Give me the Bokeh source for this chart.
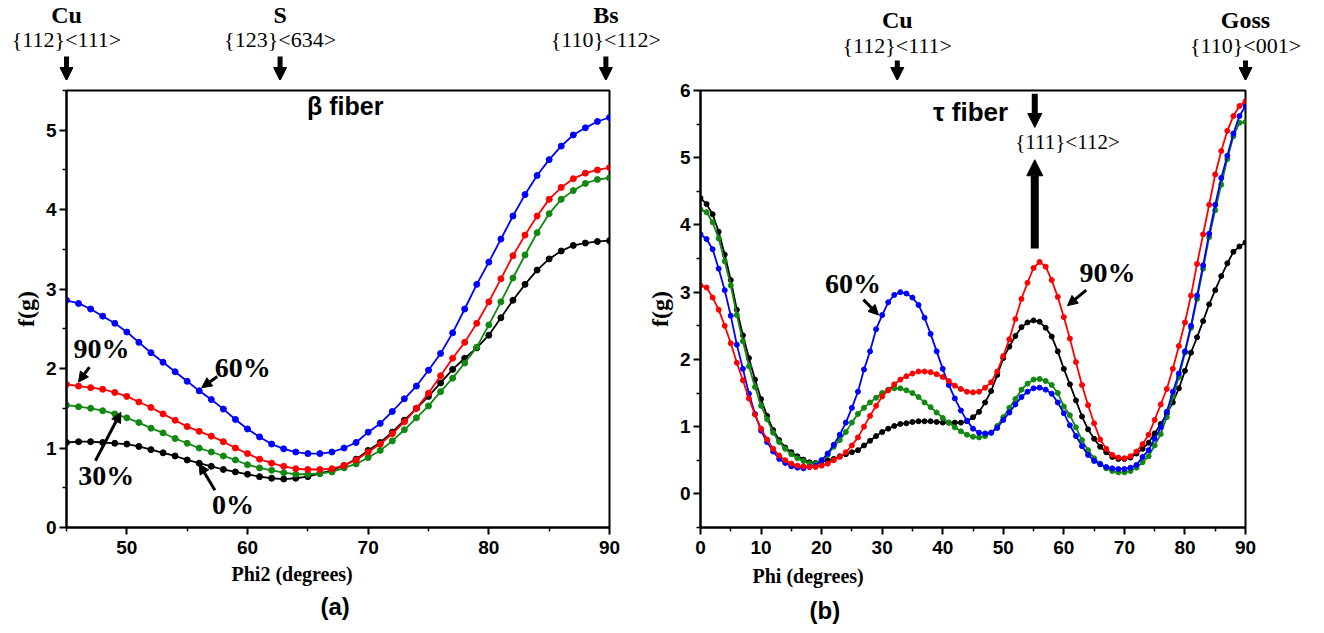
from bokeh.plotting import figure
from bokeh.layouts import row, column
from bokeh.models import FixedTicker, Label, Arrow, NormalHead, Range1d, Title
from bokeh.embed import file_html
from bokeh.resources import INLINE

# ---------------- data: (a) beta fiber ----------------
phi2 = list(range(45, 91))
beta_0 = [1.07, 1.08, 1.08, 1.07, 1.06, 1.05, 1.02, 0.98, 0.94, 0.90,
          0.85, 0.81, 0.77, 0.73, 0.70, 0.67, 0.64, 0.62, 0.61, 0.62,
          0.64, 0.68, 0.72, 0.78, 0.86, 0.97, 1.07, 1.20, 1.35, 1.50,
          1.65, 1.82, 1.99, 2.13, 2.26, 2.42, 2.64, 2.86, 3.06, 3.24,
          3.38, 3.48, 3.55, 3.58, 3.60, 3.61]
beta_30 = [1.54, 1.52, 1.50, 1.47, 1.43, 1.38, 1.32, 1.25, 1.19, 1.12,
           1.06, 1.00, 0.95, 0.90, 0.85, 0.79, 0.75, 0.72, 0.69, 0.67,
           0.67, 0.68, 0.70, 0.75, 0.80, 0.88, 0.97, 1.09, 1.23, 1.38,
           1.53, 1.71, 1.88, 2.07, 2.27, 2.55, 2.84, 3.14, 3.43, 3.71,
           3.95, 4.13, 4.24, 4.33, 4.38, 4.40]
beta_60 = [2.86, 2.82, 2.75, 2.66, 2.57, 2.46, 2.33, 2.20, 2.08, 1.96,
           1.84, 1.72, 1.61, 1.49, 1.36, 1.24, 1.14, 1.05, 0.99, 0.95,
           0.93, 0.93, 0.95, 1.00, 1.07, 1.20, 1.31, 1.46, 1.62, 1.78,
           1.98, 2.19, 2.45, 2.75, 3.06, 3.34, 3.63, 3.92, 4.19, 4.43,
           4.63, 4.80, 4.94, 5.03, 5.11, 5.16]
beta_90 = [1.80, 1.78, 1.76, 1.74, 1.70, 1.65, 1.58, 1.51, 1.43, 1.35,
           1.27, 1.21, 1.15, 1.08, 1.00, 0.93, 0.86, 0.81, 0.77, 0.74,
           0.73, 0.73, 0.74, 0.78, 0.85, 0.95, 1.05, 1.18, 1.33, 1.50,
           1.69, 1.91, 2.13, 2.33, 2.57, 2.84, 3.13, 3.42, 3.68, 3.92,
           4.13, 4.28, 4.39, 4.46, 4.50, 4.53]

# ---------------- data: (b) tau fiber ----------------
phi = list(range(0, 91))
tau_0 = [4.40, 4.31, 4.16, 3.90, 3.56, 3.18, 2.74, 2.36, 2.02, 1.70,
         1.41, 1.16, 0.95, 0.80, 0.69, 0.62, 0.56, 0.51, 0.47, 0.46,
         0.48, 0.50, 0.52, 0.56, 0.59, 0.62, 0.65, 0.72, 0.79, 0.86,
         0.92, 0.97, 1.01, 1.04, 1.05, 1.07, 1.08, 1.08, 1.08, 1.07,
         1.06, 1.06, 1.06, 1.06, 1.08, 1.14, 1.22, 1.36, 1.53, 1.77,
         2.02, 2.19, 2.35, 2.48, 2.55, 2.58, 2.56, 2.47, 2.34, 2.12,
         1.86, 1.63, 1.39, 1.15, 0.96, 0.82, 0.70, 0.62, 0.55, 0.52,
         0.52, 0.54, 0.60, 0.67, 0.76, 0.90, 1.04, 1.19, 1.36, 1.57,
         1.83, 2.10, 2.33, 2.57, 2.82, 3.03, 3.24, 3.43, 3.60, 3.68,
         3.74]
tau_30 = [4.23, 4.19, 4.04, 3.80, 3.46, 3.10, 2.66, 2.27, 1.90, 1.59,
          1.31, 1.11, 0.91, 0.77, 0.67, 0.59, 0.53, 0.49, 0.45, 0.45,
          0.50, 0.58, 0.70, 0.80, 0.92, 1.06, 1.19, 1.28, 1.36, 1.43,
          1.50, 1.55, 1.57, 1.57, 1.54, 1.50, 1.44, 1.36, 1.29, 1.21,
          1.13, 1.06, 0.99, 0.93, 0.88, 0.85, 0.84, 0.86, 0.91, 1.01,
          1.14, 1.28, 1.41, 1.55, 1.64, 1.70, 1.71, 1.68, 1.62, 1.50,
          1.30, 1.17, 0.99, 0.80, 0.65, 0.53, 0.45, 0.38, 0.34, 0.32,
          0.32, 0.34, 0.39, 0.47, 0.56, 0.72, 0.89, 1.14, 1.45, 1.74,
          2.10, 2.47, 2.90, 3.35, 3.82, 4.22, 4.60, 4.98, 5.32, 5.52,
          5.53]
tau_60 = [3.86, 3.79, 3.64, 3.35, 3.03, 2.65, 2.22, 1.86, 1.49, 1.19,
          0.94, 0.77, 0.63, 0.52, 0.46, 0.41, 0.39, 0.38, 0.40, 0.42,
          0.50, 0.60, 0.73, 0.88, 1.06, 1.28, 1.52, 1.85, 2.12, 2.45,
          2.66, 2.85, 2.96, 3.00, 2.98, 2.92, 2.81, 2.62, 2.38, 2.12,
          1.86, 1.62, 1.42, 1.24, 1.09, 0.97, 0.91, 0.90, 0.91, 0.98,
          1.10, 1.21, 1.33, 1.44, 1.52, 1.57, 1.58, 1.55, 1.49, 1.36,
          1.20, 1.02, 0.86, 0.71, 0.58, 0.49, 0.44, 0.40, 0.38, 0.37,
          0.37, 0.39, 0.43, 0.55, 0.65, 0.82, 0.99, 1.22, 1.52, 1.79,
          2.12, 2.50, 2.95, 3.40, 3.87, 4.30, 4.70, 5.03, 5.36, 5.62,
          5.77]
tau_90 = [3.10, 3.07, 2.92, 2.74, 2.50, 2.24, 1.95, 1.69, 1.42, 1.18,
          0.97, 0.81, 0.67, 0.57, 0.50, 0.45, 0.42, 0.41, 0.40, 0.40,
          0.42, 0.45, 0.50, 0.55, 0.62, 0.72, 0.84, 1.00, 1.16, 1.31,
          1.45, 1.54, 1.63, 1.70, 1.75, 1.79, 1.82, 1.82, 1.81, 1.78,
          1.74, 1.68, 1.61, 1.56, 1.52, 1.51, 1.52, 1.58, 1.66, 1.82,
          2.05, 2.30, 2.60, 2.90, 3.14, 3.36, 3.45, 3.38, 3.18, 2.93,
          2.63, 2.31, 1.96, 1.62, 1.32, 1.05, 0.81, 0.67, 0.58, 0.54,
          0.53, 0.56, 0.63, 0.74, 0.88, 1.10, 1.33, 1.56, 1.86, 2.20,
          2.55, 2.95, 3.42, 3.86, 4.30, 4.75, 5.10, 5.40, 5.62, 5.77,
          5.84]

# texture components marked above the plots (angle, name, Miller indices)
beta_marks = [(45, "Cu", "{112}<111>"), (62.7, "S", "{123}<634>"),
              (89.7, "Bs", "{110}<112>")]
tau_marks = [(32.6, "Cu", "{112}<111>"), (90, "Goss", "{110}<001>")]

BLACK = "#000000"
RED = "#ff0000"
GREEN = "#118811"
BLUE = "#0000ff"

SERIF = "Liberation Serif"
SANS = "Liberation Sans"
NARROW = "Liberation Sans Narrow, Liberation Sans"

# ---------------- layout constants (pixels) ----------------
TOP_H = 80                  # strip holding the texture labels
BT = 10                     # top border of the plots
MAIN_H = BT + 437 + 98      # border + frame + bottom border
W1, L1, R1 = 643, 66, 34    # panel (a): width, left / right border
W2, L2, R2 = 673, 56, 71    # panel (b)
F1 = W1 - L1 - R1           # 543 px frame for 45..90
F2 = W2 - L2 - R2           # 546 px frame for 0..90
WT = W1 + W2


def px_a(x):                # strip x position of a panel (a) angle
    return L1 + (x - 45) * F1 / 45.0


def px_b(x):                # strip x position of a panel (b) angle
    return W1 + L2 + x * F2 / 90.0


def style(p, xt, xmt, yt, ymt):
    p.xaxis.ticker = FixedTicker(ticks=xt, minor_ticks=xmt)
    p.yaxis.ticker = FixedTicker(ticks=yt, minor_ticks=ymt)
    p.xgrid.visible = False
    p.ygrid.visible = False
    p.outline_line_color = "black"
    p.outline_line_width = 2
    for ax in (p.xaxis[0], p.yaxis[0]):
        ax.axis_line_width = 2
        ax.major_tick_line_width = 2
        ax.minor_tick_line_width = 1.5
        ax.major_tick_out = 7
        ax.major_tick_in = 0
        ax.minor_tick_out = 4
        ax.minor_tick_in = 0
        ax.major_label_text_font = NARROW
        ax.major_label_text_font_style = "bold"
        ax.major_label_text_font_size = "19px"
        ax.major_label_text_color = "black"
    p.xaxis.major_label_standoff = 6
    p.yaxis.axis_label = "f(g)"
    p.yaxis.axis_label_text_font = SERIF
    p.yaxis.axis_label_text_font_style = "bold"
    p.yaxis.axis_label_text_color = "black"
    p.yaxis.axis_label_text_font_size = "24px"
    p.yaxis.major_label_standoff = 3
    p.yaxis.axis_label_standoff = 4


def below_title(p, text, offset, size, font, standoff):
    p.add_layout(Title(text=text, align="left", offset=offset,
                       text_font=font, text_font_size=f"{size}px",
                       text_font_style="bold", text_color="black",
                       standoff=standoff), "below")


def lab(p, x, y, text, size, font=SERIF, fstyle="bold", align="center"):
    p.add_layout(Label(x=x, y=y, text=text, text_font=font,
                       text_font_size=f"{size}px", text_font_style=fstyle,
                       text_align=align, text_baseline="middle",
                       text_color="black"))


def arr(p, x0, y0, x1, y1, lw, head):
    p.add_layout(Arrow(end=NormalHead(size=head, fill_color="black",
                                      line_color="black", line_width=1),
                       x_start=x0, y_start=y0, x_end=x1, y_end=y1,
                       line_width=lw, line_color="black"))


def series(p, x, y, color, size):
    p.line(x, y, line_color=color, line_width=1.8)
    p.scatter(x, y, size=size, fill_color=color, line_color=color)


# ---------------- top strip with texture labels ----------------
top = figure(width=WT, height=TOP_H, x_range=Range1d(0, WT),
             y_range=Range1d(0, TOP_H), output_backend="svg",
             toolbar_location=None, x_axis_type=None, y_axis_type=None,
             min_border=0, min_border_left=0, min_border_right=0,
             min_border_top=0, min_border_bottom=0)
top.outline_line_color = None
top.xgrid.visible = False
top.ygrid.visible = False
for xs, name, hkl in beta_marks:
    xp = px_a(xs)
    lab(top, xp, TOP_H - 14, name, 24)
    lab(top, xp, TOP_H - 39, hkl, 22, fstyle="normal")
    arr(top, xp, TOP_H - 56, xp, 0, 5, 13)
for xs, name, hkl in tau_marks:
    xp = px_b(xs)
    lab(top, xp, TOP_H - 19, name, 24)
    lab(top, xp, TOP_H - 45, hkl, 22, fstyle="normal")
    arr(top, xp, TOP_H - 60, xp, 0, 5, 13)

# ---------------- panel (a) ----------------
p1 = figure(width=W1, height=MAIN_H, x_range=Range1d(45, 90),
            y_range=Range1d(0, 5.5), output_backend="svg",
            toolbar_location=None, min_border_left=L1, min_border_right=R1,
            min_border_top=BT, min_border_bottom=98)
style(p1, [50, 60, 70, 80, 90], [45, 55, 65, 75, 85],
      [0, 1, 2, 3, 4, 5], [0.5, 1.5, 2.5, 3.5, 4.5, 5.5])
below_title(p1, "Phi2 (degrees)", 165, 20, SERIF, 8)
below_title(p1, "(a)", 254, 24, SANS, 4)

series(p1, phi2, beta_0, BLACK, 6)
series(p1, phi2, beta_30, GREEN, 6)
series(p1, phi2, beta_90, RED, 6)
series(p1, phi2, beta_60, BLUE, 6)

lab(p1, 68.1, 5.30, "β fiber", 25, font=SANS)
lab(p1, 59.6, 2.02, "60%", 28)
arr(p1, 57.5, 1.90, 56.2, 1.76, 3, 10)
lab(p1, 47.9, 2.25, "90%", 28)
arr(p1, 46.9, 2.02, 46.0, 1.83, 3, 10)
lab(p1, 48.3, 0.66, "30%", 28)
arr(p1, 47.4, 0.84, 49.5, 1.45, 3, 10)
lab(p1, 58.8, 0.29, "0%", 28)
arr(p1, 57.3, 0.47, 56.0, 0.80, 3, 10)

# ---------------- panel (b) ----------------
p2 = figure(width=W2, height=MAIN_H, x_range=Range1d(0, 90),
            y_range=Range1d(-0.5, 6), output_backend="svg",
            toolbar_location=None, min_border_left=L2, min_border_right=R2,
            min_border_top=BT, min_border_bottom=98)
style(p2, list(range(0, 91, 10)), list(range(5, 90, 10)),
      [0, 1, 2, 3, 4, 5, 6], [-0.5, 0.5, 1.5, 2.5, 3.5, 4.5, 5.5])
below_title(p2, "Phi (degrees)", 52, 20, SERIF, 12)
below_title(p2, "(b)", 109, 24, SANS, 4)

series(p2, phi, tau_0, BLACK, 5)
series(p2, phi, tau_30, GREEN, 5)
series(p2, phi, tau_60, BLUE, 5)
series(p2, phi, tau_90, RED, 5)

lab(p2, 44.6, 5.68, "τ fiber", 26, font=SANS)
arr(p2, 55.2, 5.95, 55.2, 5.45, 6, 14)
lab(p2, 60.6, 5.24, "{111}<112>", 21, fstyle="normal")
arr(p2, 55.2, 3.65, 55.2, 4.97, 8, 16)
lab(p2, 25.2, 3.13, "60%", 28)
arr(p2, 26.9, 2.89, 29.4, 2.66, 3, 10)
lab(p2, 67.2, 3.29, "90%", 28)
arr(p2, 63.7, 3.03, 60.6, 2.80, 3, 10)

layout = column(top, row(p1, p2, spacing=0), spacing=0)
open("out.html", "w").write(file_html(layout, INLINE))
